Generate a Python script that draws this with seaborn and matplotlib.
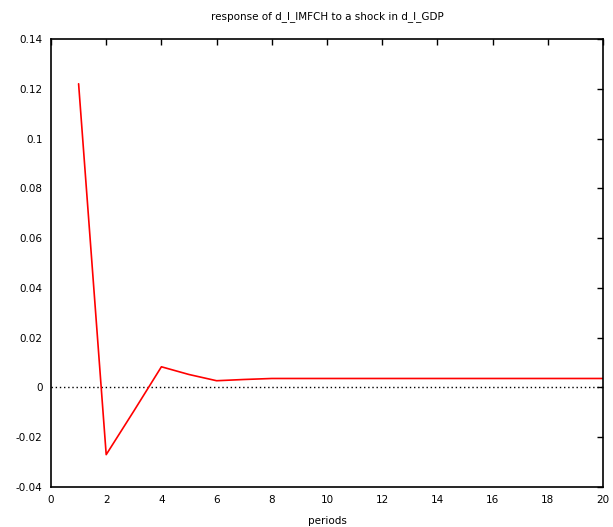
import matplotlib
matplotlib.use("Agg")
import matplotlib.pyplot as plt
import seaborn as sns
import pandas as pd

periods = list(range(1, 21))
response = [0.122, -0.027, -0.0095, 0.0083, 0.0052, 0.0027, 0.0032, 0.0036,
            0.0036, 0.0036, 0.0036, 0.0036, 0.0036, 0.0036, 0.0036, 0.0036,
            0.0036, 0.0036, 0.0036, 0.0036]
xticks = list(range(0, 21, 2))
yticks = [-0.04, -0.02, 0, 0.02, 0.04, 0.06, 0.08, 0.1, 0.12, 0.14]
ytick_labels = ["-0.04", "-0.02", "0", "0.02", "0.04", "0.06", "0.08", "0.1", "0.12", "0.14"]
title = "response of d_l_IMFCH to a shock in d_l_GDP"

sns.set_style("white")
plt.rcParams['font.family'] = ['DejaVu Sans']
plt.rcParams['text.color'] = 'black'
plt.rcParams['axes.labelcolor'] = 'black'

df = pd.DataFrame({"periods": periods, "response": response})

fig = plt.figure(figsize=(6.13, 5.27), dpi=100)
ax = fig.add_axes([51/613, 1 - 487/527, 552/613, 448/527])

ax.axhline(0, color="black", linestyle=(0, (1, 2)), linewidth=1)
sns.lineplot(data=df, x="periods", y="response", color="#ff0000", linewidth=1.2, ax=ax)

ax.set_xlim(0, 20)
ax.set_ylim(-0.04, 0.14)
ax.set_xticks(xticks)
ax.set_xticklabels([str(t) for t in xticks], fontsize=7.5)
ax.set_yticks(yticks)
ax.set_yticklabels(ytick_labels, fontsize=7.5)
ax.tick_params(direction="in", length=4, width=1, top=True, right=True,
               color="black", labelcolor="black", pad=6)
for s in ax.spines.values():
    s.set_color("black")
    s.set_linewidth(1.2)
ax.set_xlabel("periods", fontsize=7.5, labelpad=8, color="black")
ax.set_ylabel("")
ax.set_title(title, fontsize=7.5, pad=14, color="black")

fig.savefig("out.png", dpi=100)
